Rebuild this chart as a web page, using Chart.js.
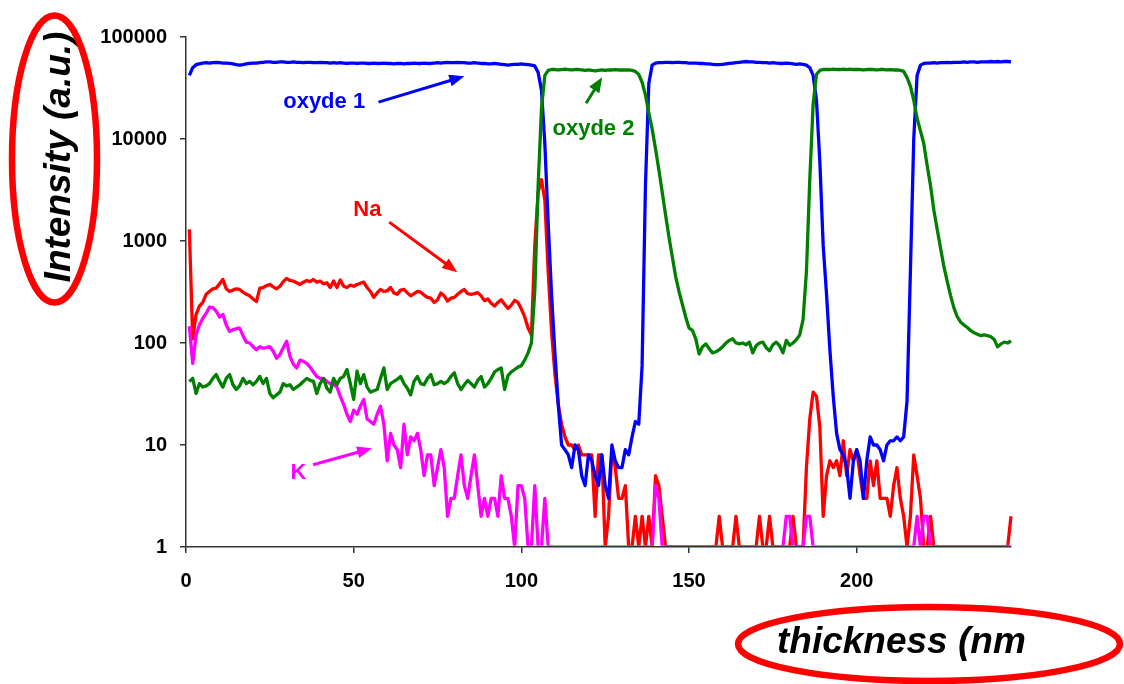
<!DOCTYPE html>
<html>
<head>
<meta charset="utf-8">
<script src="https://cdn.jsdelivr.net/npm/chart.js@4.4.0/dist/chart.umd.min.js"></script>
<style>
  html, body { margin: 0; padding: 0; background: #fff; }
</style>
</head>
<body>
<canvas id="depthChart" width="1124" height="684"></canvas>
<script>
// intensities, one value per nm of depth (1..246 nm)
const oxyde1 = [
  42000, 50000, 53500, 54500, 55500, 56000, 55500, 56000, 56500, 56000,
  55500, 55500, 55000, 54500, 53500, 53000, 53500, 54500, 55000, 55500,
  55500, 56000, 56500, 57000, 57000, 56500, 56500, 57000, 57000, 56500,
  56500, 57000, 56500, 56500, 56000, 56500, 56500, 56000, 56000, 56500,
  56000, 56000, 55500, 56000, 55500, 56000, 55500, 55000, 55500, 55500,
  55000, 55500, 55500, 55000, 55000, 55500, 55000, 55000, 55500, 55000,
  55000, 54500, 55000, 55000, 54500, 55000, 55000, 55500, 55000, 55000,
  55500, 55000, 55000, 55500, 56000, 55500, 56000, 56500, 56000, 56000,
  56500, 56000, 56000, 55500, 55500, 56000, 55500, 55000, 55000, 54500,
  54500, 55000, 54500, 54000, 53500, 53000, 53500, 54000, 54000, 54500,
  54000, 53500, 53000, 52000, 45000, 30000, 9000, 1500, 300, 80,
  25, 10, 9, 8, 6, 10, 9, 5, 4, 8,
  7, 5, 4, 8, 4, 3, 10, 7, 6, 6,
  9, 8, 12, 17, 16, 60, 3500, 35000, 53000, 55500,
  56000, 56000, 56500, 56500, 56000, 56500, 56500, 56000, 56000, 55500,
  55500, 55500, 55000, 55000, 54500, 54500, 54000, 53500, 53500, 54000,
  54500, 55000, 55500, 56000, 56500, 57000, 57500, 57000, 57000, 56500,
  56500, 56000, 56000, 55500, 56000, 55500, 55000, 55000, 55500, 55000,
  54500, 54000, 54500, 54000, 53000, 50000, 42000, 24000, 6000, 900,
  300, 85, 30, 13, 9, 8, 6, 3, 7, 9,
  7, 3, 7, 12, 10, 10, 9, 7, 10, 11,
  11, 12, 11, 12, 27, 500, 10000, 42000, 53000, 55000,
  55500, 55500, 56000, 55500, 56000, 56000, 56500, 56000, 56500, 56500,
  56500, 57000, 56500, 57000, 57000, 56500, 57000, 57000, 57000, 57500,
  57000, 57500, 57000, 57500, 57500, 57000
];

const oxyde2 = [
  42, 45, 32, 40, 37, 38, 40, 45, 49, 42,
  37, 45, 49, 39, 35, 38, 45, 40, 42, 39,
  42, 47, 40, 45, 32, 29, 31, 33, 40, 38,
  39, 35, 37, 39, 42, 45, 43, 42, 32, 40,
  45, 36, 33, 45, 39, 45, 47, 55, 40, 28,
  53, 40, 49, 37, 33, 34, 35, 45, 57, 35,
  40, 42, 44, 47, 40, 36, 31, 42, 47, 40,
  39, 45, 49, 39, 40, 42, 40, 42, 47, 51,
  40, 35, 39, 43, 40, 37, 43, 47, 37, 40,
  45, 52, 55, 57, 35, 48, 52, 55, 58, 60,
  68, 80, 100, 320, 3500, 20000, 42000, 47000, 48000, 48000,
  47500, 48000, 48500, 48000, 47500, 48000, 48000, 47500, 47000, 47500,
  47000, 46500, 47000, 47500, 47000, 47500, 47500, 48000, 47500, 47500,
  47500, 47500, 47000, 46000, 43000, 36000, 27000, 18000, 12500, 8000,
  5000, 3000, 1800, 1100, 700, 450, 320, 240, 180, 140,
  133, 110, 78, 92, 98, 88, 80, 82, 86, 92,
  100, 106, 110, 100, 98, 100, 96, 102, 80, 94,
  100, 102, 90, 84, 96, 102, 94, 80, 106, 95,
  100, 108, 120, 170, 500, 4000, 22000, 43000, 47000, 48000,
  48000, 48000, 48500, 48000, 48000, 48500, 48000, 48500, 48000, 48000,
  48000, 47500, 48000, 48000, 48000, 47500, 48000, 48000, 47500, 48000,
  47500, 47500, 47000, 46000, 40000, 33000, 24000, 16000, 12000, 9000,
  5500, 3500, 2000, 1300, 850, 560, 400, 290, 220, 180,
  160, 150, 142, 132, 126, 122, 118, 120, 118, 115,
  108, 92, 98, 102, 100, 105
];

const na = [
  1300, 110, 190, 230, 250, 300, 320, 340, 345, 380,
  420, 340, 320, 330, 340, 335, 315, 300, 290, 270,
  255, 345, 350, 365, 375, 355, 340, 360, 400, 430,
  410, 405, 390, 375, 395, 410, 400, 420, 395, 405,
  380, 390, 350, 405, 350, 415, 360, 350, 370, 360,
  375, 385, 395, 350, 320, 280, 310, 335, 320, 325,
  350, 310, 300, 330, 335, 310, 290, 305, 320, 315,
  295, 280, 275, 250, 265, 310, 290, 258, 275, 280,
  300, 320, 335, 305, 300, 305, 312, 290, 260, 270,
  245, 230, 250, 265, 240, 218, 235, 262, 250, 215,
  180, 140, 120, 900, 3000, 4000, 2500, 500, 130, 50,
  25, 16, 12, 10, 10, 9, 10, 8, 8, 8,
  8, 2, 8, 8, 1, 2, 9, 6, 3, 3,
  4, 1, 1, 2, 1, 2, 1, 2, 1, 5,
  4, 2, 1, 1, 1, 1, 1, 1, 1, 1,
  1, 1, 1, 1, 1, 1, 1, 1, 2, 1,
  1, 1, 1, 2, 1, 1, 1, 1, 1, 1,
  2, 1, 1, 2, 1, 1, 1, 1, 1, 1,
  2, 1, 1, 1, 6, 18, 33, 30, 15, 2,
  5, 7, 6, 7, 5, 11, 5, 9, 7, 9,
  5, 3, 3, 7, 4, 7, 3, 3, 3, 2,
  4, 6, 3, 2, 1, 2, 8, 5, 3, 1,
  1, 2, 1, 1, 1, 1, 1, 1, 1, 1,
  1, 1, 1, 1, 1, 1, 1, 1, 1, 1,
  1, 1, 1, 1, 1, 2
];

const k = [
  146, 63, 120, 150, 175, 195, 225, 222, 205, 180,
  190, 150, 130, 135, 138, 140, 118, 102, 100, 92,
  86, 92, 89, 90, 92, 83, 71, 77, 90, 104,
  74, 62, 57, 68, 66, 63, 58, 52, 47, 45,
  45, 42, 40, 39, 37, 30, 25, 20, 17, 22,
  20, 24, 28, 18, 17, 16, 20, 24, 16, 7,
  13, 10, 9, 6, 16, 8, 12, 11, 13, 9,
  5, 8, 8, 4, 6, 9, 6, 2, 3, 3,
  5, 8, 4, 3, 5, 8, 4, 2, 3, 2,
  3, 3, 2, 5, 3, 3, 2, 1, 4, 4,
  3, 1, 1, 4, 1, 1, 3, 1, 1, 1,
  1, 1, 1, 1, 1, 1, 1, 1, 1, 1,
  1, 1, 1, 1, 1, 1, 1, 1, 1, 1,
  1, 1, 1, 1, 1, 1, 1, 1, 1, 4,
  3, 1, 1, 1, 1, 1, 1, 1, 1, 1,
  1, 1, 1, 1, 1, 1, 1, 1, 1, 1,
  1, 1, 1, 1, 1, 1, 1, 1, 1, 1,
  1, 1, 1, 1, 1, 1, 1, 1, 2, 2,
  1, 1, 1, 1, 2, 2, 1, 1, 1, 1,
  1, 1, 1, 1, 1, 1, 1, 1, 1, 1,
  1, 1, 1, 1, 1, 1, 1, 1, 1, 1,
  1, 1, 1, 1, 1, 1, 1, 2, 1, 2,
  2, 1, 1, 1, 1, 1, 1, 1, 1, 1,
  1, 1, 1, 1, 1, 1, 1, 1, 1, 1,
  1, 1, 1, 1, 1, 1
];

// depth of each sample (nm)
const thickness = oxyde1.map((v, i) => i + 1);

const xTicks = [0, 50, 100, 150, 200];
const yTicks = [1, 10, 100, 1000, 10000, 100000];

// callouts, anchored in data coordinates (nm, intensity)
const calloutText = ["oxyde 1", "oxyde 2", "Na", "K"];
const calloutColor = ["#0000ff", "#008000", "#ff0000", "#ff00ff"];
const calloutAt = [[41.2, 22900], [121.5, 12470], [54.1, 2004], [33.5, 5.3]];
const arrowFrom = [[57.4, 23000], [119.3, 22400], [60.6, 1530], [37.9, 6.4]];
const arrowTo = [[83.0, 41200], [124.1, 40300], [80.9, 495], [55.5, 9.3]];

const FONT = '"Liberation Sans", Arial, sans-serif';

function toPoints(values) {
  return values.map((v, i) => ({ x: thickness[i], y: v }));
}

function drawArrow(ctx, x1, y1, x2, y2, color) {
  const ang = Math.atan2(y2 - y1, x2 - x1);
  const len = 15, half = 6;
  ctx.strokeStyle = color;
  ctx.fillStyle = color;
  ctx.lineWidth = 3;
  ctx.beginPath();
  ctx.moveTo(x1, y1);
  ctx.lineTo(x2 - Math.cos(ang) * len * 0.8, y2 - Math.sin(ang) * len * 0.8);
  ctx.stroke();
  ctx.beginPath();
  ctx.moveTo(x2, y2);
  ctx.lineTo(x2 - Math.cos(ang) * len + Math.sin(ang) * half, y2 - Math.sin(ang) * len - Math.cos(ang) * half);
  ctx.lineTo(x2 - Math.cos(ang) * len - Math.sin(ang) * half, y2 - Math.sin(ang) * len + Math.cos(ang) * half);
  ctx.closePath();
  ctx.fill();
}

const decor = {
  id: 'decor',
  afterDraw(chart) {
    const ctx = chart.ctx;
    const xs = chart.scales.x, ys = chart.scales.y;
    ctx.save();

    // series callouts with arrows
    ctx.font = 'bold 22px ' + FONT;
    ctx.textAlign = 'center';
    ctx.textBaseline = 'middle';
    calloutText.forEach((t, i) => {
      ctx.fillStyle = calloutColor[i];
      ctx.fillText(t, xs.getPixelForValue(calloutAt[i][0]), ys.getPixelForValue(calloutAt[i][1]));
      drawArrow(ctx,
        xs.getPixelForValue(arrowFrom[i][0]), ys.getPixelForValue(arrowFrom[i][1]),
        xs.getPixelForValue(arrowTo[i][0]), ys.getPixelForValue(arrowTo[i][1]),
        calloutColor[i]);
    });

    // y axis title in its red ring
    ctx.fillStyle = '#000';
    ctx.font = 'italic bold 37px ' + FONT;
    ctx.save();
    ctx.translate(70, 157);
    ctx.rotate(-Math.PI / 2);
    ctx.textAlign = 'center';
    ctx.textBaseline = 'alphabetic';
    ctx.fillText('Intensity (a.u.)', 0, 0);
    ctx.restore();

    // x axis title in its red ring
    ctx.textAlign = 'left';
    ctx.textBaseline = 'alphabetic';
    ctx.fillText('thickness (nm', 777, 653);

    ctx.strokeStyle = '#ff0000';
    ctx.lineWidth = 6.5;
    ctx.beginPath();
    ctx.ellipse(54.5, 159, 42.5, 143.5, 0, 0, Math.PI * 2);
    ctx.stroke();
    ctx.beginPath();
    ctx.ellipse(929, 644, 191, 37, 0, 0, Math.PI * 2);
    ctx.stroke();

    ctx.restore();
  }
};

const tickFont = { family: FONT, size: 20, weight: 'bold' };
const axisGrid = { display: true, drawOnChartArea: false, drawTicks: true, tickLength: 6, color: '#333', lineWidth: 1.5 };
const axisBorder = { display: true, color: '#333', width: 1.5 };
// lines sitting on the floor (1 count) mostly disappear under the axis, as in the original
const floorClip = { left: 4, top: 4, right: 4, bottom: -1.3 };

new Chart(document.getElementById('depthChart'), {
  type: 'line',
  data: {
    datasets: [
      { label: 'oxyde 2', data: toPoints(oxyde2), borderColor: '#008000', clip: floorClip },
      { label: 'oxyde 1', data: toPoints(oxyde1), borderColor: '#0000ff', clip: floorClip },
      { label: 'K', data: toPoints(k), borderColor: '#ff00ff', clip: floorClip },
      { label: 'Na', data: toPoints(na), borderColor: '#ff0000', clip: floorClip }
    ]
  },
  options: {
    responsive: false,
    animation: false,
    devicePixelRatio: 1,
    layout: { padding: { left: 66, right: 113, top: 37, bottom: 77 } },
    plugins: { legend: { display: false }, tooltip: { enabled: false } },
    elements: {
      point: { radius: 0 },
      line: { borderWidth: 3.3, tension: 0, borderJoinStyle: 'round', fill: false }
    },
    scales: {
      x: {
        type: 'linear',
        min: 0,
        max: 246,
        z: 1,
        afterBuildTicks: s => { s.ticks = xTicks.map(v => ({ value: v })); },
        afterFit: s => { s.height = 60; },
        grid: axisGrid,
        border: axisBorder,
        ticks: { color: '#000', font: tickFont, padding: 16, maxRotation: 0 }
      },
      y: {
        type: 'logarithmic',
        min: 1,
        max: 100000,
        z: 1,
        afterBuildTicks: s => { s.ticks = yTicks.map(v => ({ value: v })); },
        afterFit: s => { s.width = 120; },
        grid: axisGrid,
        border: axisBorder,
        ticks: { color: '#000', font: tickFont, padding: 13, callback: v => String(v) }
      }
    }
  },
  plugins: [decor]
});
</script>
</body>
</html>
